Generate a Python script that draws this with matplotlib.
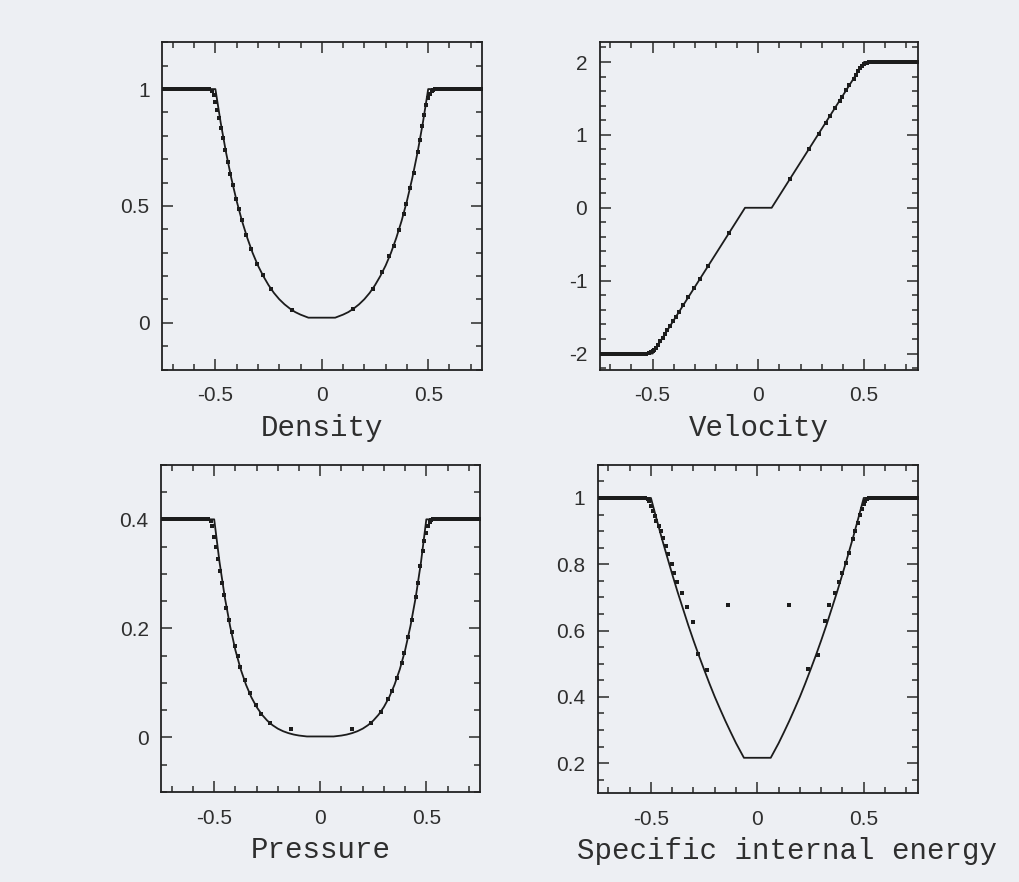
"""
Double rarefaction test: SPH particles against the exact Riemann solution.
"""
import matplotlib
matplotlib.use("Agg")
import matplotlib.pyplot as plt
from matplotlib.ticker import MultipleLocator, FixedLocator, FuncFormatter

plt.rcParams["axes.unicode_minus"] = False

PAPER = "#edeff3"
INK = "#1c1c1c"
TEXT = "#2e2e2e"

# exact solution, sampled along x
exact_x = [-0.75, -0.5, -0.475, -0.45, -0.425, -0.4, -0.375, -0.35, -0.325, -0.3,
           -0.275, -0.25, -0.225, -0.2, -0.175, -0.15, -0.125, -0.1, -0.063,
           0.063, 0.1, 0.125, 0.15, 0.175, 0.2, 0.225, 0.25, 0.275, 0.3,
           0.325, 0.35, 0.375, 0.4, 0.425, 0.45, 0.475, 0.5, 0.75]
exact_rho = [1.0, 1.0, 0.856, 0.729, 0.618, 0.521, 0.436, 0.363, 0.299, 0.245,
             0.200, 0.161, 0.128, 0.101, 0.079, 0.061, 0.046, 0.035, 0.022,
             0.022, 0.035, 0.046, 0.061, 0.079, 0.101, 0.128, 0.161, 0.200, 0.245,
             0.299, 0.363, 0.436, 0.521, 0.618, 0.729, 0.856, 1.0, 1.0]
exact_p = [0.4, 0.4, 0.322, 0.257, 0.204, 0.160, 0.125, 0.0967, 0.0739, 0.0560,
           0.0419, 0.0310, 0.0226, 0.0162, 0.0115, 0.0080, 0.0054, 0.0036, 0.0019,
           0.0019, 0.0036, 0.0054, 0.0080, 0.0115, 0.0162, 0.0226, 0.0310, 0.0419, 0.0560,
           0.0739, 0.0967, 0.125, 0.160, 0.204, 0.257, 0.322, 0.4, 0.4]
exact_e = [1.0, 1.0, 0.940, 0.881, 0.825, 0.770, 0.717, 0.667, 0.617, 0.570,
           0.525, 0.482, 0.440, 0.400, 0.363, 0.327, 0.293, 0.260, 0.216,
           0.216, 0.260, 0.293, 0.327, 0.363, 0.400, 0.440, 0.482, 0.525, 0.570,
           0.617, 0.667, 0.717, 0.770, 0.825, 0.881, 0.940, 1.0, 1.0]
exact_vel_x = [-0.75, -0.5, -0.063, 0.063, 0.5, 0.75]
exact_vel = [-2.0, -2.0, 0.0, 0.0, 2.0, 2.0]

# undisturbed particles on either side
plateau_x_left = [-0.75, -0.74, -0.73, -0.72, -0.71, -0.70, -0.69, -0.68, -0.67,
                  -0.66, -0.65, -0.64, -0.63, -0.62, -0.61, -0.60, -0.59, -0.58,
                  -0.57, -0.56, -0.55, -0.54, -0.53]
plateau_x_right = [0.53, 0.54, 0.55, 0.56, 0.57, 0.58, 0.59, 0.60, 0.61, 0.62,
                   0.63, 0.64, 0.65, 0.66, 0.67, 0.68, 0.69, 0.70, 0.71, 0.72,
                   0.73, 0.74, 0.75]
rho_state = 1.0
vel_left_state, vel_right_state = -2.0, 2.0
p_state = 0.4
e_state = 1.0

# particles inside the rarefaction fans
fan_x = [-0.516, -0.508, -0.500, -0.492, -0.483, -0.474, -0.464, -0.453, -0.442,
         -0.430, -0.418, -0.403, -0.390, -0.376, -0.355, -0.332, -0.303, -0.277,
         -0.237, -0.140,
         0.148, 0.239, 0.285, 0.318, 0.337, 0.363, 0.384, 0.396, 0.415, 0.431,
         0.450, 0.461, 0.472, 0.482, 0.491, 0.500, 0.508, 0.516, 0.524]
fan_rho = [0.992, 0.975, 0.945, 0.910, 0.875, 0.835, 0.790, 0.740, 0.690,
           0.638, 0.588, 0.531, 0.485, 0.439, 0.376, 0.316, 0.252, 0.203,
           0.143, 0.055,
           0.058, 0.145, 0.218, 0.284, 0.328, 0.399, 0.465, 0.507, 0.577, 0.643,
           0.729, 0.783, 0.840, 0.890, 0.930, 0.960, 0.980, 0.990, 0.997]
fan_vel = [-1.995, -1.985, -1.970, -1.950, -1.920, -1.881, -1.835, -1.785, -1.735,
           -1.680, -1.625, -1.556, -1.497, -1.432, -1.336, -1.231, -1.098, -0.979,
           -0.796, -0.352,
           0.389, 0.806, 1.016, 1.167, 1.254, 1.373, 1.469, 1.524, 1.611, 1.684,
           1.771, 1.821, 1.872, 1.918, 1.950, 1.970, 1.985, 1.993, 1.998]
fan_p = [0.397, 0.388, 0.368, 0.350, 0.328, 0.306, 0.284, 0.262, 0.238,
         0.215, 0.194, 0.168, 0.149, 0.130, 0.106, 0.082, 0.060, 0.044,
         0.027, 0.015,
         0.015, 0.027, 0.047, 0.070, 0.086, 0.110, 0.137, 0.155, 0.185, 0.216,
         0.257, 0.283, 0.314, 0.342, 0.360, 0.375, 0.388, 0.395, 0.399]
fan_e = [0.998, 0.990, 0.975, 0.960, 0.945, 0.930, 0.915, 0.900, 0.880,
         0.855, 0.832, 0.800, 0.775, 0.745, 0.712, 0.672, 0.625, 0.530,
         0.480, 0.676,
         0.676, 0.485, 0.527, 0.630, 0.676, 0.712, 0.745, 0.775, 0.805, 0.835,
         0.876, 0.900, 0.925, 0.950, 0.968, 0.982, 0.990, 0.996, 0.999]

PANELS = [
    # title, exact x, exact y, fan y, left/right state, ylim, majors, minor, title x
    ("Density", exact_x, exact_rho, fan_rho, (rho_state, rho_state),
     (-0.2, 1.2), [0, 0.5, 1], 0.1, 0.5),
    ("Velocity", exact_vel_x, exact_vel, fan_vel, (vel_left_state, vel_right_state),
     (-2.22, 2.27), [-2, -1, 0, 1, 2], 0.2, 0.5),
    ("Pressure", exact_x, exact_p, fan_p, (p_state, p_state),
     (-0.1, 0.5), [0, 0.2, 0.4], 0.05, 0.5),
    ("Specific internal energy", exact_x, exact_e, fan_e, (e_state, e_state),
     (0.11, 1.1), [0.2, 0.4, 0.6, 0.8, 1], 0.05, 0.59),
]

# axes rectangles in figure fractions
RECTS = [
    (0.159, 0.581, 0.314, 0.371),
    (0.588, 0.581, 0.312, 0.371),
    (0.158, 0.102, 0.313, 0.371),
    (0.586, 0.101, 0.314, 0.372),
]

fig = plt.figure(figsize=(10.2, 8.82), dpi=100, facecolor=PAPER)
fmt = FuncFormatter(lambda v, _: f"{v:g}")

for rect, (title, ex, ey, fy, states, ylim, majors, minor, tx) in zip(RECTS, PANELS):
    ax = fig.add_axes(rect, facecolor=PAPER)
    ax.plot(ex, ey, color=INK, lw=1.3, zorder=2)
    ax.plot(plateau_x_left, [states[0]] * len(plateau_x_left), "s", color=INK,
            ms=3.0, mew=0, zorder=3)
    ax.plot(plateau_x_right, [states[1]] * len(plateau_x_right), "s", color=INK,
            ms=3.0, mew=0, zorder=3)
    ax.plot(fan_x, fy, "s", color=INK, ms=3.0, mew=0, zorder=3)

    ax.set_xlim(-0.75, 0.755)
    ax.set_ylim(*ylim)
    ax.xaxis.set_major_locator(FixedLocator([-0.5, 0, 0.5]))
    ax.xaxis.set_minor_locator(MultipleLocator(0.1))
    ax.yaxis.set_major_locator(FixedLocator(majors))
    ax.yaxis.set_minor_locator(MultipleLocator(minor))
    ax.xaxis.set_major_formatter(fmt)
    ax.yaxis.set_major_formatter(fmt)

    ax.tick_params(which="both", direction="in", top=True, right=True,
                   colors="#2a2a2a", labelcolor=TEXT, width=1.1)
    ax.tick_params(which="major", length=8)
    ax.tick_params(which="minor", length=4)
    ax.tick_params(axis="x", which="major", pad=12)
    ax.tick_params(axis="y", which="major", pad=9)
    for lab in ax.get_xticklabels() + ax.get_yticklabels():
        lab.set_family("Liberation Sans")
        lab.set_fontsize(15)
    for sp in ax.spines.values():
        sp.set_linewidth(1.3)
        sp.set_color("#222222")

    ax.text(tx, -0.178, title, transform=ax.transAxes, ha="center", va="center",
            family="Liberation Mono", fontsize=21, color=TEXT)

fig.savefig("out.png", dpi=100, facecolor=PAPER)
